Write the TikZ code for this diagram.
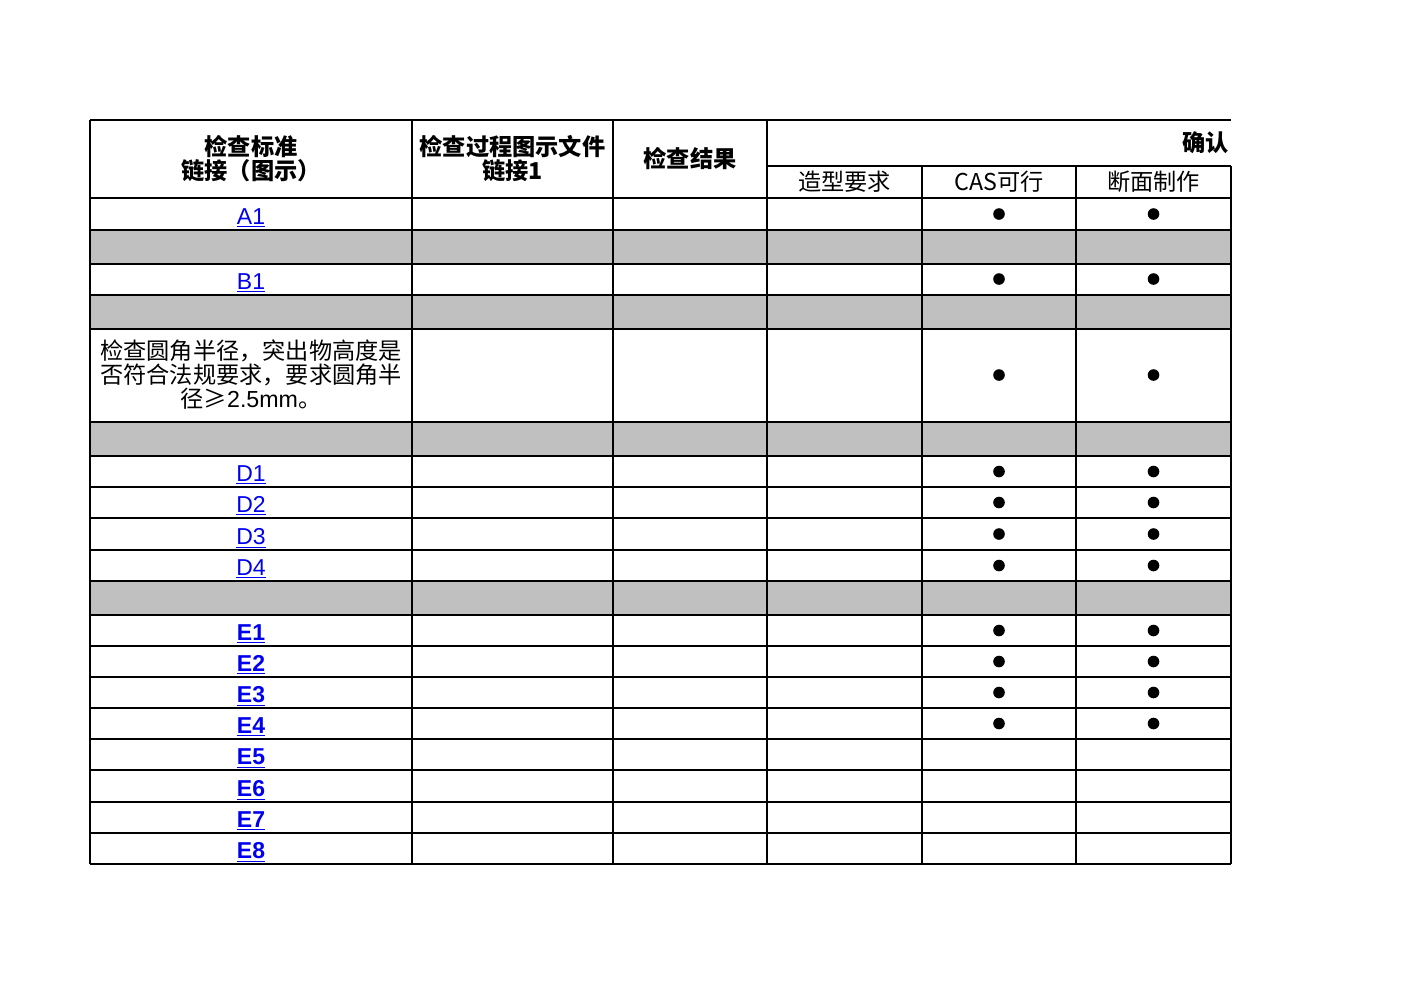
\documentclass[tikz,border=0pt]{standalone}
\usepackage{fontspec}
\setmainfont{Liberation Sans}
\newfontfamily\cjk{Noto Sans CJK SC}
\definecolor{rowgray}{HTML}{C0C0C0}
\definecolor{linkblue}{HTML}{0000EE}
\begin{document}
\begin{tikzpicture}[x=0.5pt, y=-0.5pt, line width=0.9pt,
    txt/.style={inner sep=0pt, align=center, font=\cjk\fontsize{11.6}{12}\selectfont},
    hdr/.style={inner sep=0pt, align=center, font=\cjk\bfseries\fontsize{11.6}{12}\selectfont},
    link/.style={inner sep=0pt, anchor=base, text=linkblue, font=\fontsize{11.5}{12}\selectfont},
    okdot/.style={circle, fill=black, inner sep=0pt, minimum size=5.8pt}]
    \useasboundingbox (0,0) rectangle (1403,992);
    % grey separator rows
    \foreach \ya/\yb in {230/264, 295/329, 422/456, 581/615}
        \fill[rowgray] (90,\ya) rectangle (1231,\yb);
    % grid
    \draw (90,120) -- (1231,120);
    \draw (767,166) -- (1231,166);
    \foreach \y in {198,230,264,295,329,422,456,487,518,550,581,615,646,677,708,739,770,802,833,864}
        \draw (90,\y) -- (1231,\y);
    \foreach \x in {90,412,613,767}
        \draw (\x,120) -- (\x,864);
    \foreach \x in {922,1076,1231}
        \draw (\x,166) -- (\x,864);
    % header
    \node[hdr] (std) at (251,159) {检查标准\\链接（图示）};
    \node[hdr] (proc) at (512.5,159) {检查过程图示文件\\链接1};
    \node[hdr] (res) at (690,159) {检查结果};
    \node[hdr, anchor=east] (conf) at (1230,143) {确认};
    \node[txt] (shape) at (844.5,182) {造型要求};
    \node[txt] (cas) at (999,182) {CAS可行};
    \node[txt] (sect) at (1153.5,182) {断面制作};
    % links
    \node[link] (a1) at (251,224) {\underline{A1}};
    \node[link] (b1) at (251,289) {\underline{B1}};
    \node[txt] (rad) at (251,375) {检查圆角半径，突出物高度是\\否符合法规要求，要求圆角半\\径≥{\fontspec{Liberation Sans}2.5mm}。};
    \foreach \n/\y in {1/481, 2/512, 3/544, 4/575}
        \node[link] (d\n) at (251,\y) {\underline{D\n}};
    \foreach \n/\y in {1/640, 2/671, 3/702, 4/733, 5/764, 6/796, 7/827, 8/858}
        \node[link, font=\bfseries\fontsize{11.5}{12}\selectfont] (e\n) at (251,\y) {\underline{E\n}};
    % confirmation marks
    \foreach \y [count=\i] in {214, 279, 375, 471.5, 502.5, 534, 565.5, 630.5, 661.5, 692.5, 723.5} {
        \node[okdot] (c\i) at (999,\y) {};
        \node[okdot] (s\i) at (1153.5,\y) {};
    }
\end{tikzpicture}
\end{document}
